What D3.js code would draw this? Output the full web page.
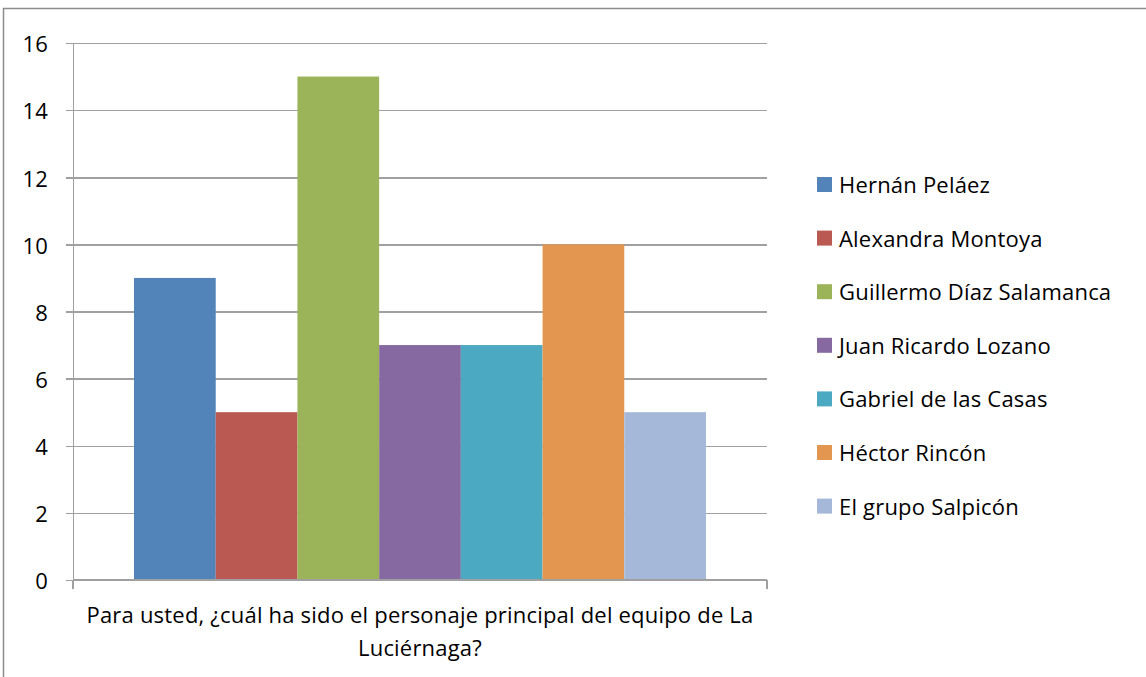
<!DOCTYPE html>
<meta charset="utf-8">
<style>
body { margin: 0; background: #fff; overflow: hidden; }
svg { display: block; }
svg text { font-family: "Open Sans", sans-serif; fill: #000; letter-spacing: 0.2px; }
.axis path, .axis line { fill: none; stroke: #a0a0a0; stroke-width: 1.5; shape-rendering: crispEdges; }
.grid line { stroke: #a0a0a0; stroke-width: 1.5; shape-rendering: crispEdges; }
.grid path { stroke-width: 0; }
</style>
<body>
<script src="https://d3js.org/d3.v7.min.js"></script>
<script>

var question = "Para usted, ¿cuál ha sido el personaje principal del equipo de La Luciérnaga?";
var questionLines = ["Para usted, ¿cuál ha sido el personaje principal del equipo de La", "Luciérnaga?"];
var names = ["Hernán Peláez", "Alexandra Montoya", "Guillermo Díaz Salamanca", "Juan Ricardo Lozano",
             "Gabriel de las Casas", "Héctor Rincón", "El grupo Salpicón"];
var votes = [9, 5, 15, 7, 7, 10, 5];
var colors = ["#5284b9", "#b95952", "#9bb45a", "#8569a0", "#4ba9c1", "#e3964f", "#a5b8da"];
var yTicks = [0, 2, 4, 6, 8, 10, 12, 14, 16];

var margin = {top: 43, left: 73},
    width = 694,
    height = 537;

var svg = d3.select("body").append("svg")
    .attr("width", 1146)
    .attr("height", 677);

// outer chart border (right and bottom fall off the picture)
svg.append("path")
    .attr("d", "M3.5,700V8.5H1200")
    .attr("fill", "none")
    .attr("stroke", "#8c8c8c")
    .attr("stroke-width", 1.5);

var g = svg.append("g")
    .attr("transform", "translate(" + margin.left + "," + margin.top + ")");

var x0 = d3.scaleBand()
    .domain([question])
    .range([0, width])
    .padding(0.0964);

var x1 = d3.scaleBand()
    .domain(names)
    .range([0, x0.bandwidth()]);

var y = d3.scaleLinear()
    .domain([0, 16])
    .range([height, 0]);

var color = d3.scaleOrdinal().domain(names).range(colors);

// gridlines
g.append("g")
    .attr("class", "grid")
    .call(d3.axisLeft(y).tickValues(yTicks).tickSize(-width).tickFormat(""));

// bars
var rows = names.map(function(n, i) { return {name: n, value: votes[i]}; });
g.append("g")
    .attr("transform", "translate(" + x0(question) + ",0)")
    .selectAll("rect")
    .data(rows)
    .enter().append("rect")
    .attr("x", function(d) { return x1(d.name); })
    .attr("y", function(d) { return y(d.value); })
    .attr("width", x1.bandwidth())
    .attr("height", function(d) { return height - y(d.value); })
    .attr("fill", function(d) { return color(d.name); });

// y axis
var yAxis = g.append("g")
    .attr("class", "axis")
    .call(d3.axisLeft(y).tickValues(yTicks).tickSize(7).tickSizeOuter(0).tickPadding(18));
yAxis.selectAll("text").style("font-size", "22px").attr("dy", "0.4em");

// x axis: tick marks at both ends of the category
var xAxis = g.append("g")
    .attr("class", "axis")
    .attr("transform", "translate(0," + height + ")");
xAxis.append("line").attr("x1", 0).attr("x2", width);
xAxis.selectAll(".edge")
    .data([0, width])
    .enter().append("line")
    .attr("class", "edge")
    .attr("x1", function(d) { return d; })
    .attr("x2", function(d) { return d; })
    .attr("y1", 0).attr("y2", 9);

xAxis.append("text")
    .attr("text-anchor", "middle")
    .style("font-size", "22px")
    .selectAll("tspan")
    .data(questionLines)
    .enter().append("tspan")
    .attr("x", x0(question) + x0.bandwidth() / 2)
    .attr("y", function(d, i) { return 43 + i * 33; })
    .text(function(d) { return d; });

// legend
var legend = svg.append("g")
    .attr("transform", "translate(817,177)");
var item = legend.selectAll("g")
    .data(names)
    .enter().append("g")
    .attr("transform", function(d, i) { return "translate(0," + i * 53.6 + ")"; });
item.append("rect")
    .attr("width", 15).attr("height", 15)
    .attr("fill", function(d) { return color(d); });
item.append("text")
    .attr("x", 22).attr("y", 8).attr("dy", "0.36em")
    .style("font-size", "22px")
    .text(function(d) { return d; });

</script>
